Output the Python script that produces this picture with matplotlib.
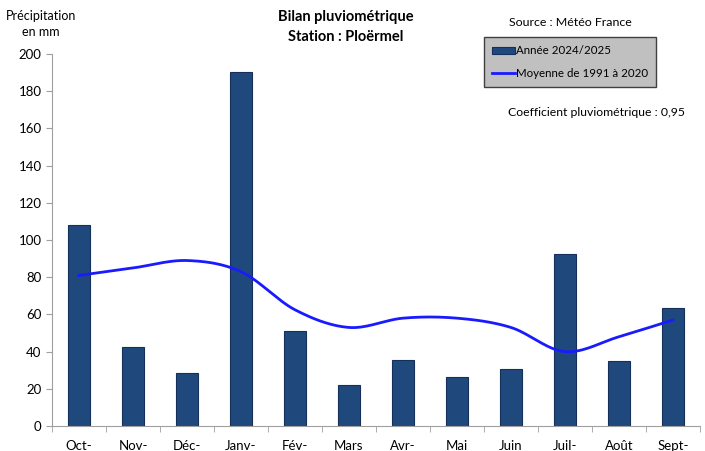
import numpy as np
import matplotlib.pyplot as plt

months = ['Oct-', 'Nov-', 'Déc-', 'Janv-', 'Fév-', 'Mars', 'Avr-', 'Mai', 'Juin', 'Juil-', 'Août', 'Sept-']
annee = [108, 42.5, 28.5, 190.5, 51, 22, 35.5, 26.5, 30.5, 92.5, 35, 63.5]
moyenne = [81, 85, 89, 83, 62.5, 53, 58, 58, 53, 40, 48, 57]

plt.rcParams['font.family'] = ['Lato', 'DejaVu Sans']

fig = plt.figure(figsize=(7.05, 4.51), dpi=100)
ax = fig.add_axes([0.0738, 0.0554, 0.919, 0.8246])

x = np.arange(len(months))
bars = ax.bar(x, annee, width=0.42, color='#1f497d', edgecolor='#14305a', linewidth=0.8,
              label='Année 2024/2025', zorder=2)


# smoothed line like Excel (Catmull-Rom through the monthly values)
def smooth(xs, ys, n=30):
    xs = np.asarray(xs, float)
    ys = np.asarray(ys, float)
    px = np.concatenate([[2 * xs[0] - xs[1]], xs, [2 * xs[-1] - xs[-2]]])
    py = np.concatenate([[2 * ys[0] - ys[1]], ys, [2 * ys[-1] - ys[-2]]])
    ox, oy = [], []
    for i in range(1, len(px) - 2):
        t = np.linspace(0, 1, n, endpoint=False)
        for p, out in ((px, ox), (py, oy)):
            p0, p1, p2, p3 = p[i - 1], p[i], p[i + 1], p[i + 2]
            out.extend(0.5 * (2 * p1 + (-p0 + p2) * t + (2 * p0 - 5 * p1 + 4 * p2 - p3) * t ** 2
                              + (-p0 + 3 * p1 - 3 * p2 + p3) * t ** 3))
    ox.append(xs[-1])
    oy.append(ys[-1])
    return ox, oy


sx, sy = smooth(x, moyenne)
line, = ax.plot(sx, sy, color='#1a1aff', linewidth=2, label='Moyenne de 1991 à 2020', zorder=3)

ax.set_xlim(-0.5, len(months) - 0.5)
ax.set_ylim(0, 200)
ax.set_yticks(np.arange(0, 201, 20))
ax.set_xticks(x)
ax.set_xticklabels(months)
ax.set_xticks(np.arange(-0.5, len(months), 1), minor=True)
ax.tick_params(axis='x', which='major', length=0, pad=10, labelsize=9.5)
ax.tick_params(axis='x', which='minor', length=4, color='#a0a0a0')
ax.tick_params(axis='y', length=4, color='#a0a0a0', labelsize=9.5)
for s in ['top', 'right']:
    ax.spines[s].set_visible(False)
for s in ['left', 'bottom']:
    ax.spines[s].set_color('#a0a0a0')

leg = ax.legend([bars, line], ['Année 2024/2025', 'Moyenne de 1991 à 2020'],
                loc='upper left', bbox_to_anchor=(0.666, 1.045), frameon=True, fancybox=False,
                fontsize=8.3, handlelength=2.0, handleheight=0.5, handletextpad=0.1,
                borderpad=0.7, labelspacing=1.0, borderaxespad=0)
leg.get_frame().set_facecolor('#c0c0c0')
leg.get_frame().set_edgecolor('#404040')
leg.get_frame().set_alpha(1)

fig.text(0.49, 0.962, 'Bilan pluviométrique', ha='center', va='center', fontsize=10.5, fontweight='bold')
fig.text(0.49, 0.918, 'Station : Ploërmel', ha='center', va='center', fontsize=10.5, fontweight='bold')
fig.text(0.058, 0.965, 'Précipitation', ha='center', va='center', fontsize=9)
fig.text(0.058, 0.928, 'en mm', ha='center', va='center', fontsize=9)
fig.text(0.809, 0.951, 'Source : Météo France', ha='center', va='center', fontsize=8.9)
fig.text(0.972, 0.751, 'Coefficient pluviométrique : 0,95', ha='right', va='center', fontsize=8.8)

fig.savefig('out.png', dpi=100)
